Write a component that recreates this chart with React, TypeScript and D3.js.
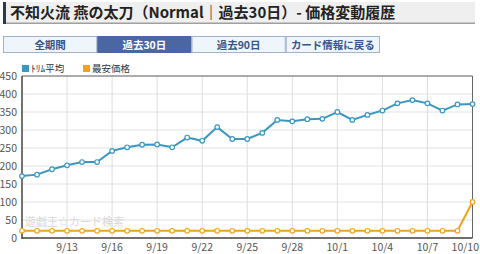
import React from "react";
import * as d3 from "d3";

const dates: string[] = [
  "9/10","9/11","9/12","9/13","9/14","9/15","9/16","9/17","9/18","9/19","9/20",
  "9/21","9/22","9/23","9/24","9/25","9/26","9/27","9/28","9/29","9/30",
  "10/1","10/2","10/3","10/4","10/5","10/6","10/7","10/8","10/9","10/10",
];
const trimAvg: number[] = [
  172, 176, 191, 202, 211, 211, 242, 252, 259, 260, 252,
  279, 270, 308, 275, 275, 292, 328, 324, 330, 331,
  350, 328, 342, 354, 374, 383, 374, 354, 371, 372,
];
const minPrice: number[] = [
  20, 20, 20, 20, 20, 20, 20, 20, 20, 20, 20,
  20, 20, 20, 20, 20, 20, 20, 20, 20, 20,
  20, 20, 20, 20, 20, 20, 20, 20, 20, 100,
];
const yTicks: number[] = [0, 50, 100, 150, 200, 250, 300, 350, 400, 450];
const xTickLabels: string[] = ["9/13","9/16","9/19","9/22","9/25","9/28","10/1","10/4","10/7","10/10"];
const buttons: string[] = ["全期間", "過去30日", "過去90日", "カード情報に戻る"];
const seriesNames: string[] = ["ﾄﾘﾑ平均", "最安価格"];

const BLUE = "#3a97c1";
const ORANGE = "#f3a21e";
const FONT = "'Noto Sans CJK JP', 'Noto Sans', sans-serif";

export default function App() {
  const W = 480, H = 254;
  const left = 22, right = 472.5, top = 76, bottom = 238;
  const x = d3.scalePoint<string>().domain(dates).range([left, right]);
  const y = d3.scaleLinear().domain([0, 450]).range([bottom, top]);
  const line = d3.line<number>().x((_, i) => x(dates[i])!).y((d) => y(d));

  const btnX = d3.scaleLinear().domain([0, 4]).range([3, 380]);

  return (
    <svg width={W} height={H} style={{ position: "absolute", left: 0, top: 0, fontFamily: FONT }}>
      <rect width={W} height={H} fill="#fff" />
      {/* title bar */}
      <rect x={3} y={2} width={472} height={21} fill="#efefef" />
      <rect x={3} y={22.5} width={472} height={1.5} fill="#a0a0a0" />
      <rect x={3} y={2} width={3} height={22} fill="#2b3a4e" />
      <text x={10} y={18} fontSize={15} fontWeight="bold" fill="#222">
        不知火流 燕の太刀（Normal｜過去30日）- 価格変動履歴
      </text>
      {/* buttons */}
      {buttons.map((b, i) => {
        const x0 = btnX(i), x1 = btnX(i + 1);
        const active = i === 1;
        return (
          <g key={b}>
            <rect x={x0 + 0.5} y={36.5} width={x1 - x0 - 1} height={16}
              fill={active ? "#4a67a3" : "#eef5fb"} stroke={active ? "#4a67a3" : "#9fb2c8"} strokeWidth={1} />
            <text x={(x0 + x1) / 2} y={48.5} textAnchor="middle" fontSize={10.5} fontWeight="bold"
              fill={active ? "#fff" : "#34558c"}>{b}</text>
          </g>
        );
      })}
      {/* legend */}
      <rect x={22} y={65} width={7} height={7} fill={BLUE} />
      <text x={31} y={72} fontSize={9.5} fill="#333">{seriesNames[0]}</text>
      <rect x={83} y={65} width={7} height={7} fill={ORANGE} />
      <text x={92} y={72} fontSize={9.5} fill="#333">{seriesNames[1]}</text>
      {/* grid */}
      {yTicks.map((t) => (
        <line key={"h" + t} x1={left} x2={right} y1={y(t)} y2={y(t)} stroke="#e2e2e2" strokeWidth={1} />
      ))}
      {xTickLabels.map((d) => (
        <line key={"v" + d} x1={x(d)} x2={x(d)} y1={top} y2={bottom} stroke="#dedede" strokeWidth={1} />
      ))}
      {/* frame */}
      <line x1={left} x2={right} y1={top} y2={top} stroke="#666" strokeWidth={1} />
      <line x1={right} x2={right} y1={top} y2={bottom} stroke="#666" strokeWidth={1} />
      <line x1={left} x2={left} y1={top} y2={bottom + 1} stroke="#444" strokeWidth={1.5} />
      <line x1={left} x2={right} y1={bottom} y2={bottom} stroke="#444" strokeWidth={1.5} />
      {/* watermark */}
      <text x={25} y={226} fontSize={11} fill="#d8d8d8">遊戯王☆カード検索</text>
      {/* y labels */}
      {yTicks.map((t) => (
        <text key={"yl" + t} x={17} y={y(t) + 4} textAnchor="end" fontSize={10.5} fill="#555">{t}</text>
      ))}
      {xTickLabels.map((d, i) => {
        const last = i === xTickLabels.length - 1;
        return (
          <text key={"xl" + d} x={last ? 479 : x(d)} y={251} textAnchor={last ? "end" : "middle"}
            fontSize={10.5} fill="#555">{d}</text>
        );
      })}
      {/* series */}
      <path d={line(minPrice)!} fill="none" stroke={ORANGE} strokeWidth={2} />
      <path d={line(trimAvg)!} fill="none" stroke={BLUE} strokeWidth={2} />
      {minPrice.map((v, i) => (
        <circle key={"o" + i} cx={x(dates[i])} cy={y(v)} r={2.3} fill="#fff" stroke={ORANGE} strokeWidth={1.2} />
      ))}
      {trimAvg.map((v, i) => (
        <circle key={"b" + i} cx={x(dates[i])} cy={y(v)} r={2.3} fill="#fff" stroke={BLUE} strokeWidth={1.2} />
      ))}
    </svg>
  );
}
